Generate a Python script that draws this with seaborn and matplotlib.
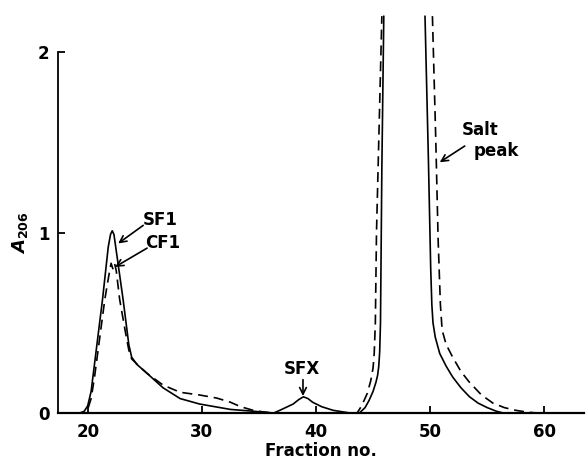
import numpy as np
import pandas as pd
import seaborn as sns
import matplotlib
matplotlib.use("Agg")
import matplotlib.pyplot as plt

# Elution profile (A206 vs fraction number)
# solid line: SF fractions, dashed line: CF fractions; NaN = off-scale gap
sf_x = [17.5, 19.3, 19.7, 20.0, 20.3, 21.3, 21.8, 22.0, 22.15, 22.3, 22.5, 23.1, 23.6, 23.85,
        24.3, 25.2, 26.6, 28.1, 29.8, 32.5, 34.5, 36.3, 37.0, 38.0, 38.5, 38.9, 39.3, 39.7,
        40.5, 41.5, 43.0, 43.8, 44.3, 44.65, 45.0, 45.25, 45.4, 45.5, 45.58, 45.65, 45.77, 45.94,
        47.7,
        49.55, 49.85, 50.05, 50.15, 50.25, 50.45, 50.84, 51.4, 51.97, 52.7, 53.45, 54.2, 55.0,
        55.8, 56.4, 63.5]
sf_y = [0, 0, 0.01, 0.04, 0.12, 0.63, 0.92, 0.99, 1.01, 0.99, 0.9, 0.63, 0.38, 0.31,
        0.27, 0.22, 0.14, 0.08, 0.05, 0.02, 0.01, 0.0, 0.02, 0.05, 0.075, 0.09, 0.08, 0.06,
        0.035, 0.015, 0.0, 0.0, 0.03, 0.07, 0.12, 0.17, 0.21, 0.26, 0.34, 0.5, 1.36, 2.2,
        np.nan,
        2.2, 1.4, 0.8, 0.6, 0.5, 0.42, 0.33, 0.26, 0.2, 0.14, 0.09, 0.055, 0.03,
        0.01, 0.0, 0.0]

cf_x = [17.5, 19.6, 20.0, 20.3, 20.6, 21.5, 21.9, 22.05, 22.2, 22.35, 22.5, 22.8, 23.3, 23.6,
        23.85, 24.5, 25.2, 26.6, 28.1, 29.8, 31.3, 32.5, 33.4, 34.5, 35.5, 36.3, 43.6, 44.0,
        44.5, 44.8, 45.0, 45.1, 45.2, 45.3, 45.77,
        48.0,
        50.2, 50.5, 50.7, 50.9, 51.05, 51.4, 51.97, 52.7, 53.45, 54.5, 55.5, 56.5, 57.5,
        58.5, 59.4, 63.5]
cf_y = [0, 0, 0.02, 0.08, 0.2, 0.63, 0.78, 0.83, 0.8, 0.83, 0.79, 0.63, 0.45, 0.35,
        0.3, 0.26, 0.22, 0.155, 0.115, 0.1, 0.083, 0.06, 0.035, 0.015, 0.005, 0.0, 0.0, 0.04,
        0.11, 0.18, 0.25, 0.33, 0.5, 1.0, 2.2,
        np.nan,
        2.2, 1.5, 0.96, 0.6, 0.46, 0.38, 0.31, 0.23, 0.17, 0.1, 0.055, 0.03, 0.015,
        0.005, 0.0, 0.0]

x_ticks = [20, 30, 40, 50, 60]
y_ticks = [0, 1, 2]

sns.set_style("ticks")
plt.rcParams["font.family"] = ["DejaVu Sans"]
plt.rcParams["font.weight"] = "bold"
plt.rcParams["mathtext.fontset"] = "custom"
plt.rcParams["mathtext.it"] = "DejaVu Sans:italic:bold"
plt.rcParams["mathtext.rm"] = "DejaVu Sans:bold"
for key in ["text.color", "axes.labelcolor", "xtick.color", "ytick.color", "axes.edgecolor"]:
    plt.rcParams[key] = "black"

fig = plt.figure(figsize=(5.86, 4.62), dpi=100)
ax = fig.add_axes([0.099, 0.106, 0.898, 0.781])


def draw(xs, ys, style):
    df = pd.DataFrame({"x": xs, "y": ys})
    seg = df["y"].isna().cumsum()
    for _, part in df.dropna().groupby(seg[df["y"].notna()]):
        sns.lineplot(data=part, x="x", y="y", ax=ax, sort=False, estimator=None,
                     color="black", lw=1.2, linestyle=style)
        ax.lines[-1].set_clip_on(False)


draw(sf_x, sf_y, "-")
draw(cf_x, cf_y, (0, (6, 3.5)))

ax.set_xlim(17.4, 63.5)
ax.set_ylim(0, 2)
ax.set_xticks(x_ticks)
ax.set_yticks(y_ticks)
ax.tick_params(direction="in", length=5, width=1.3, labelsize=12)
ax.tick_params(axis="x", pad=7)
ax.tick_params(axis="y", pad=6)
for lab in ax.get_xticklabels() + ax.get_yticklabels():
    lab.set_fontweight("bold")
sns.despine(ax=ax)
ax.spines["left"].set_linewidth(1.3)
ax.spines["bottom"].set_linewidth(1.6)

ax.set_xlabel("Fraction no.", fontsize=12, fontweight="bold", labelpad=1)
ax.set_ylabel(r"$A_{\mathrm{206}}$", fontsize=13, labelpad=6)

arrow = dict(arrowstyle="->", color="black", lw=1.2, mutation_scale=12, shrinkA=0, shrinkB=0)
txt = dict(fontsize=12, fontweight="bold", va="center")
ax.text(24.8, 1.07, "SF1", ha="left", **txt)
ax.annotate("", xy=(22.67, 0.94), xytext=(24.86, 1.04), arrowprops=arrow)
ax.text(25.0, 0.94, "CF1", ha="left", **txt)
ax.annotate("", xy=(22.4, 0.81), xytext=(25.2, 0.914), arrowprops=arrow)
ax.text(38.8, 0.245, "SFX", ha="center", **txt)
ax.annotate("", xy=(38.86, 0.094), xytext=(38.86, 0.185), arrowprops=arrow)
ax.text(52.8, 1.57, "Salt", ha="left", **txt)
ax.text(53.85, 1.45, "peak", ha="left", **txt)
ax.annotate("", xy=(50.84, 1.39), xytext=(53.03, 1.48), arrowprops=arrow)

fig.savefig("out.png", dpi=100)
